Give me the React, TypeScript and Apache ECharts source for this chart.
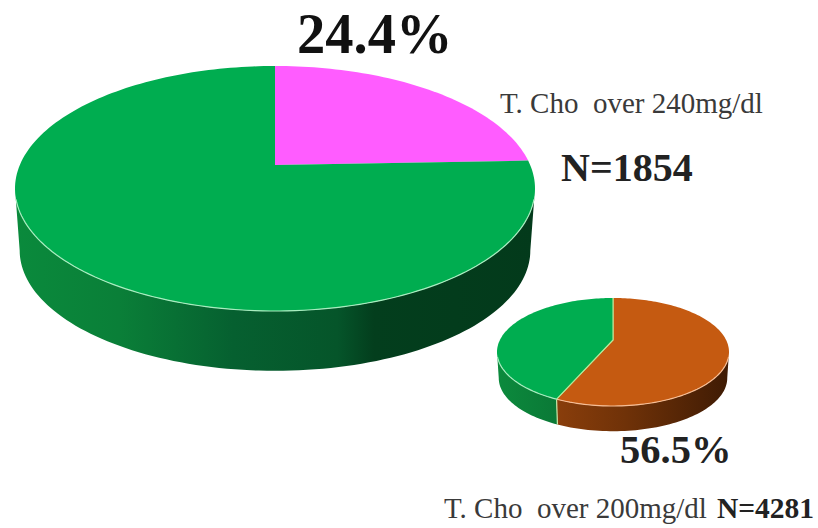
import React, { useEffect, useRef } from "react";
import * as echarts from "echarts";

// Slices, clockwise from the top of each pie (percent)
const bigPieValues = [24.4, 75.6];
const smallPieValues = [56.5, 43.5];
const bigPieColors = ["#FF5CFF", "#00AD50"];
const smallPieColors = ["#C55A11", "#00AD50"];

const bigLabel = "24.4%";
const smallLabel = "56.5%";
const bigCaption = "T. Cho  over 240mg/dl";
const smallCaption = "T. Cho  over 200mg/dl";
const bigN = "N=1854";
const smallN = "N=4281";

const makeGeo = (cx: number, top: number, cy: number, bottom: number, halfW: number, depth: number, shrink: number) => {
  const up = cy - top;
  const down = bottom - cy;
  const k = (down - up) / (down + up);
  const A = up * (1 + k);
  const B = halfW * Math.sqrt(1 - k * k);
  return { cx, cy, k, A, B, depth, shrink, halfW };
};

const bigGeo = makeGeo(275, 66, 165, 311, 260, 62, 0.982);
const smallGeo = makeGeo(613, 298, 340, 406, 116, 26, 0.985);
type G = ReturnType<typeof makeGeo>;

const point = (g: G, deg: number, lower = false): [number, number] => {
  const t = (deg * Math.PI) / 180;
  const x = Math.sin(t);
  const y = Math.cos(t);
  const d = 1 + g.k * y;
  const X = (g.B * x) / d;
  const Y = (g.A * y) / d;
  const midY = (g.A * -g.k) / (1 - g.k * g.k);
  if (lower) {
    return [g.cx + g.shrink * X, g.cy - (midY + g.shrink * (Y - midY)) + g.depth];
  }
  return [g.cx + X, g.cy - Y];
};

const arcPts = (g: G, a: number, b: number, lower = false) => {
  const n = Math.max(2, Math.ceil(Math.abs(b - a) / 1.5));
  const pts: [number, number][] = [];
  for (let i = 0; i <= n; i++) pts.push(point(g, a + ((b - a) * i) / n, lower));
  return pts;
};

const toPath = (pts: [number, number][], close = true) =>
  "M" + pts.map((p) => p[0].toFixed(2) + " " + p[1].toFixed(2)).join("L") + (close ? "Z" : "");

const hGrad = (g: G, stops: [number, string][]) => ({
  type: "linear",
  x: g.cx - g.halfW,
  y: 0,
  x2: g.cx + g.halfW,
  y2: 0,
  global: true,
  colorStops: stops.map(([offset, color]) => ({ offset, color })),
});

const greenSide: [number, string][] = [
  [0, "#0A8A3C"], [0.2, "#0A7F38"], [0.42, "#066030"], [0.62, "#05552A"], [0.69, "#033E1D"], [1, "#033A1B"],
];
const smallGreenSide: [number, string][] = [[0, "#0C8A3D"], [0.3, "#0A7635"], [1, "#05552A"]];
const orangeSide: [number, string][] = [[0.2, "#8E400C"], [0.55, "#703208"], [1, "#3F1B04"]];

const lightFor = (color: string) => (color === "#C55A11" ? "#F7BE96" : "#A9EDC0");

type Slice = { g: G; start: number; end: number; color: string; side: [number, string][]; stroke: boolean };

const buildSlices = (g: G, values: number[], colors: string[], sides: [number, string][][], stroke: boolean) => {
  let acc = 0;
  return values.map((v, i) => {
    const s: Slice = { g, start: (acc / 100) * 360, end: ((acc + v) / 100) * 360, color: colors[i], side: sides[i], stroke };
    acc += v;
    return s;
  });
};

const slices: Slice[] = [
  ...buildSlices(bigGeo, bigPieValues, bigPieColors, [greenSide, greenSide], false),
  ...buildSlices(smallGeo, smallPieValues, smallPieColors, [orangeSide, smallGreenSide], true),
];

const renderSide = (params: any) => {
  const s = slices[params.dataIndex];
  const g = s.g;
  const tangent = (Math.acos(-g.k) * 180) / Math.PI;
  const a = Math.max(s.start, tangent);
  const b = Math.min(s.end, 360 - tangent);
  if (b <= a) return { type: "group", children: [] };
  const top = arcPts(g, a, b);
  const low = arcPts(g, b, a, true);
  return {
    type: "group",
    children: [
      {
        type: "path",
        shape: { pathData: toPath([...top, ...low]) },
        style: { fill: hGrad(g, s.side) },
      },
    ],
  };
};

const renderTop = (params: any) => {
  const s = slices[params.dataIndex];
  const g = s.g;
  const apex: [number, number] = [g.cx, g.cy];
  const pts = [apex, ...arcPts(g, s.start, s.end)];
  const children: any[] = [
    {
      type: "path",
      shape: { pathData: toPath(pts) },
      style: { fill: s.color },
    },
  ];
  if (s.stroke) {
    children.push({
      type: "path",
      shape: { pathData: toPath([point(g, s.start), apex, point(g, s.end)], false) },
      style: { fill: null, stroke: "#B9E89A", lineWidth: 1.1 },
    });
  }
  const tangent = (Math.acos(-g.k) * 180) / Math.PI;
  const a = Math.max(s.start, tangent + 5);
  const b = Math.min(s.end, 360 - tangent - 5);
  if (b > a) {
    children.push({
      type: "path",
      shape: { pathData: toPath(arcPts(g, a, b), false) },
      style: { fill: null, stroke: lightFor(s.color), lineWidth: 1.2 },
    });
    if (s.stroke && s.end < 360 - tangent) {
      children.push({
        type: "path",
        shape: { pathData: toPath([point(g, s.end), point(g, s.end, true)], false) },
        style: { fill: null, stroke: "#C9E8A8", lineWidth: 1.2 },
      });
    }
  }
  return { type: "group", children };
};

const textEl = (x: number, y: number, text: string, fontSize: number, bold: boolean, fill: string) => ({
  type: "text",
  x,
  y,
  style: {
    text,
    fontSize,
    fontWeight: bold ? "bold" : "normal",
    fontFamily: "'Liberation Serif', serif",
    fill,
    textAlign: "left",
    textVerticalAlign: "middle",
  },
});

export default function App() {
  const ref = useRef<HTMLDivElement>(null);
  useEffect(() => {
    const chart = echarts.init(ref.current!, null, { renderer: "svg" });
    const data = slices.map((s) => [s.start, s.end]);
    chart.setOption({
      animation: false,
      backgroundColor: "#fff",
      series: [
        { type: "custom", coordinateSystem: "none", renderItem: renderSide, data, z: 1, silent: true },
        { type: "custom", coordinateSystem: "none", renderItem: renderTop, data, z: 2, silent: true },
      ],
      graphic: [
        textEl(297, 34, bigLabel, 56.5, true, "#111"),
        textEl(500, 103, bigCaption, 29, false, "#3a3a3a"),
        textEl(561, 167, bigN, 40, true, "#222"),
        textEl(620, 449, smallLabel, 40.5, true, "#222"),
        textEl(444, 508, smallCaption, 29, false, "#3a3a3a"),
        textEl(717, 508, smallN, 29.5, true, "#222"),
      ],
    });
    return () => chart.dispose();
  }, []);
  return <div ref={ref} style={{ position: "fixed", left: 0, top: 0, width: 818, height: 528 }} />;
}
